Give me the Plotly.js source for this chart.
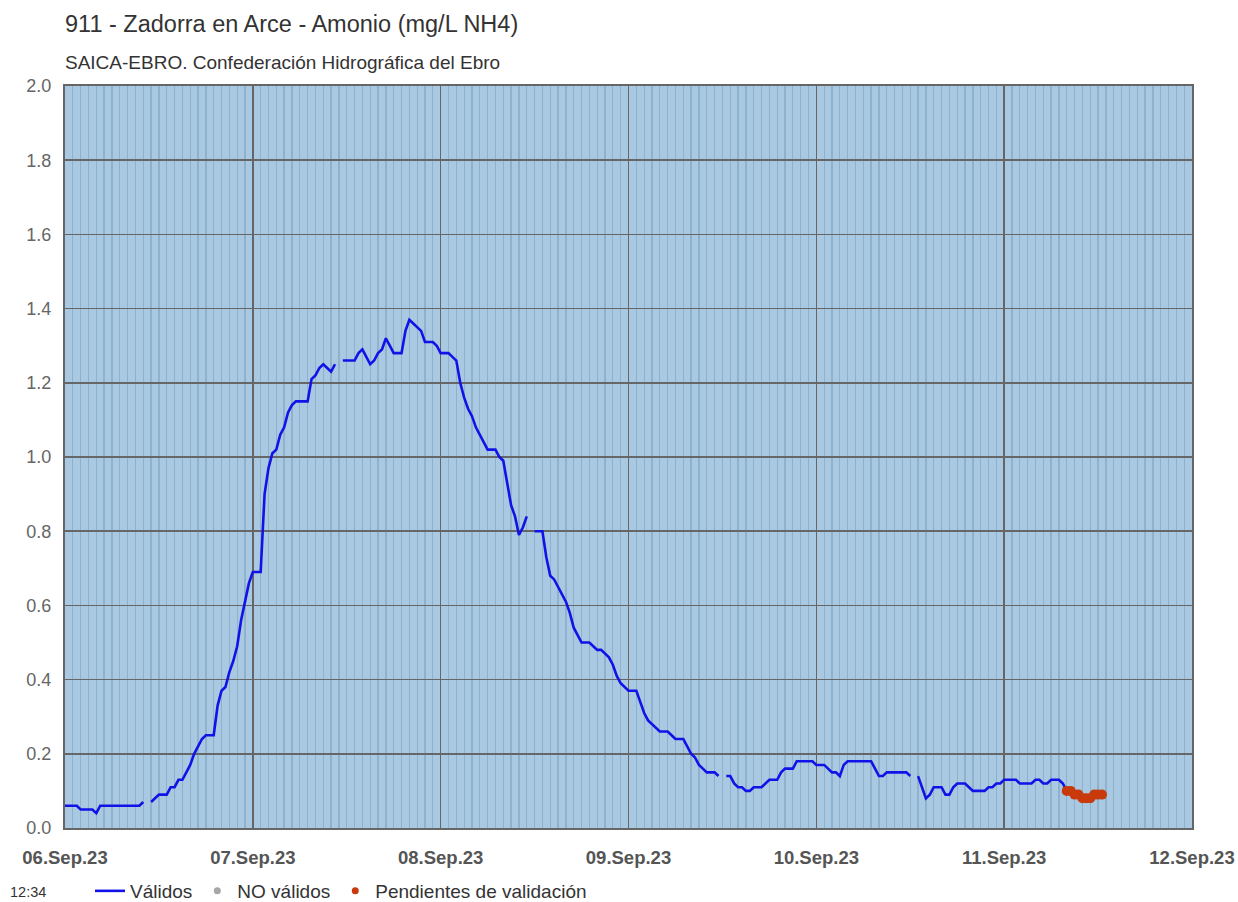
<!DOCTYPE html>
<html>
<head>
<meta charset="utf-8">
<script src="https://cdn.plot.ly/plotly-3.0.1.min.js"></script>
<style>
  html, body { margin: 0; padding: 0; background: #ffffff; }
  #chart { width: 1238px; height: 902px; }
</style>
</head>
<body>
<div id="chart"></div>
<script>
// Half-hourly readings starting 06.Sep.2023 00:00 (mg/L NH4)
const startTime = '2023-09-06T00:00:00';
const stepMinutes = 30;

const validos06 = [0.06,0.06,0.06,0.06,0.05,0.05,0.05,0.05,0.04,0.06,
  0.06,0.06,0.06,0.06,0.06,0.06,0.06,0.06,0.06,0.06,
  0.07,null,0.07,0.08,0.09,0.09,0.09,0.11,0.11,0.13,
  0.13,0.15,0.17,0.20,0.22,0.24,0.25,0.25,0.25,0.33,
  0.37,0.38,0.42,0.45,0.49,0.56,0.61,0.66];
const validos07 = [0.69,0.69,0.69,0.90,0.97,1.01,1.02,1.06,1.08,1.12,
  1.14,1.15,1.15,1.15,1.15,1.21,1.22,1.24,1.25,1.24,
  1.23,1.25,null,1.26,1.26,1.26,1.26,1.28,1.29,1.27,
  1.25,1.26,1.28,1.29,1.32,1.30,1.28,1.28,1.28,1.34,
  1.37,1.36,1.35,1.34,1.31,1.31,1.31,1.30];
const validos08 = [1.28,1.28,1.28,1.27,1.26,1.20,1.16,1.13,1.11,1.08,
  1.06,1.04,1.02,1.02,1.02,1.00,0.99,0.93,0.87,0.84,
  0.79,0.81,0.84,null,0.80,0.80,0.80,0.73,0.68,0.67,
  0.65,0.63,0.61,0.58,0.54,0.52,0.50,0.50,0.50,0.49,
  0.48,0.48,0.47,0.46,0.44,0.41,0.39,0.38];
const validos09 = [0.37,0.37,0.37,0.34,0.31,0.29,0.28,0.27,0.26,0.26,
  0.26,0.25,0.24,0.24,0.24,0.22,0.20,0.19,0.17,0.16,
  0.15,0.15,0.15,0.14,null,0.14,0.14,0.12,0.11,0.11,
  0.10,0.10,0.11,0.11,0.11,0.12,0.13,0.13,0.13,0.15,
  0.16,0.16,0.16,0.18,0.18,0.18,0.18,0.18];
const validos10 = [0.17,0.17,0.17,0.16,0.15,0.15,0.14,0.17,0.18,0.18,
  0.18,0.18,0.18,0.18,0.18,0.16,0.14,0.14,0.15,0.15,
  0.15,0.15,0.15,0.15,0.14,null,0.14,0.11,0.08,0.09,
  0.11,0.11,0.11,0.09,0.09,0.11,0.12,0.12,0.12,0.11,
  0.10,0.10,0.10,0.10,0.11,0.11,0.12,0.12];
const validos11 = [0.13,0.13,0.13,0.13,0.12,0.12,0.12,0.12,0.13,0.13,
  0.12,0.12,0.13,0.13,0.13,0.12,0.10];
// Pending validation, continues from the last valid reading
const pendientes = [0.10,0.10,0.09,0.09,0.08,0.08,0.08,0.09,0.09,0.09];
const noValidos = [];

const xTickLabelsFormat = '%d.%b.%y';
const titleText = '911 - Zadorra en Arce - Amonio (mg/L NH4)';
const subtitleText = 'SAICA-EBRO. Confederación Hidrográfica del Ebro';
const legendNames = ['Válidos', 'NO válidos', 'Pendientes de validación'];
const timeLabel = '12:34';

function pad(n) { return (n < 10 ? '0' : '') + n; }
function timeAt(i) {
  const t0 = Date.UTC(2023, 8, 6, 0, 0, 0);
  const d = new Date(t0 + i * stepMinutes * 60000);
  return d.getUTCFullYear() + '-' + pad(d.getUTCMonth() + 1) + '-' + pad(d.getUTCDate()) +
    ' ' + pad(d.getUTCHours()) + ':' + pad(d.getUTCMinutes());
}

const validos = [].concat(validos06, validos07, validos08, validos09, validos10, validos11);
const xValid = validos.map((v, i) => timeAt(i));
const pendStart = validos.length - 1;
const xPend = pendientes.map((v, i) => timeAt(pendStart + i));

const RED = '#c83a0c';
const traces = [
  {
    x: xValid, y: validos, type: 'scatter', mode: 'lines', name: legendNames[0],
    line: { color: '#1212e8', width: 2.6 }, connectgaps: false
  },
  {
    x: noValidos.length ? noValidos.map((v, i) => timeAt(i)) : [timeAt(0)],
    y: noValidos.length ? noValidos : [null],
    type: 'scatter', mode: 'markers', name: legendNames[1],
    marker: { color: '#a6a6a6', size: 7 }
  },
  {
    // legend entry for pending values
    x: [xPend[0]], y: [null], type: 'scatter', mode: 'markers', name: legendNames[2],
    marker: { color: RED, size: 7 }, legendgroup: 'pend'
  },
  {
    x: xPend, y: pendientes, type: 'scatter', mode: 'lines+markers', name: legendNames[2],
    line: { color: RED, width: 6 }, marker: { color: RED, size: 10 },
    showlegend: false, legendgroup: 'pend'
  }
];

const layout = {
  width: 1238, height: 902,
  margin: { l: 65, r: 46, t: 86, b: 74, autoexpand: false },
  paper_bgcolor: '#ffffff',
  plot_bgcolor: '#a8c9e1',
  font: { family: 'Arial, "Liberation Sans", sans-serif', color: '#333333' },
  showlegend: true,
  legend: {
    orientation: 'h', x: (90 - 65) / 1127, xanchor: 'left', y: -(891 - 828) / 742, yanchor: 'middle',
    font: { size: 19, color: '#333333' }, bgcolor: 'rgba(0,0,0,0)',
    itemwidth: 30, tracegroupgap: 0
  },
  xaxis: {
    type: 'date',
    range: ['2023-09-06 00:00', '2023-09-12 00:00'],
    dtick: 86400000, tick0: '2023-09-06',
    tickformat: xTickLabelsFormat,
    tickfont: { size: 18.5, color: '#555555', weight: 'bold' },
    ticks: '', ticklen: 0, ticklabelstandoff: 12,
    showgrid: true, gridcolor: '#666666', gridwidth: 1.5,
    minor: { dtick: 3600000, showgrid: true, gridcolor: '#8fb2cc', gridwidth: 1.3, ticks: '' },
    showline: true, linecolor: '#666666', linewidth: 2, mirror: true,
    zeroline: false, fixedrange: true, automargin: false
  },
  yaxis: {
    range: [0, 2], dtick: 0.2, tick0: 0, tickformat: '.1f',
    tickfont: { size: 18, color: '#666666' },
    ticks: '', ticklabelstandoff: 8,
    showgrid: true, gridcolor: '#666666', gridwidth: 1.5,
    showline: true, linecolor: '#666666', linewidth: 2, mirror: true,
    zeroline: false, fixedrange: true, automargin: false
  },
  annotations: [
    { text: titleText, xref: 'paper', yref: 'paper', x: -0.002, y: 1 + (86 - 24) / 742,
      xanchor: 'left', yanchor: 'middle', showarrow: false,
      font: { size: 23.5, color: '#333333' } },
    { text: subtitleText, xref: 'paper', yref: 'paper', x: -0.002, y: 1 + (86 - 62) / 742,
      xanchor: 'left', yanchor: 'middle', showarrow: false,
      font: { size: 19, color: '#333333' } },
    { text: timeLabel, xref: 'paper', yref: 'paper', x: (8 - 65) / 1127, y: -(892 - 828) / 742,
      xanchor: 'left', yanchor: 'middle', showarrow: false,
      font: { size: 14.5, color: '#333333' } }
  ]
};

Plotly.newPlot('chart', traces, layout, { staticPlot: true, displayModeBar: false });
</script>
</body>
</html>
